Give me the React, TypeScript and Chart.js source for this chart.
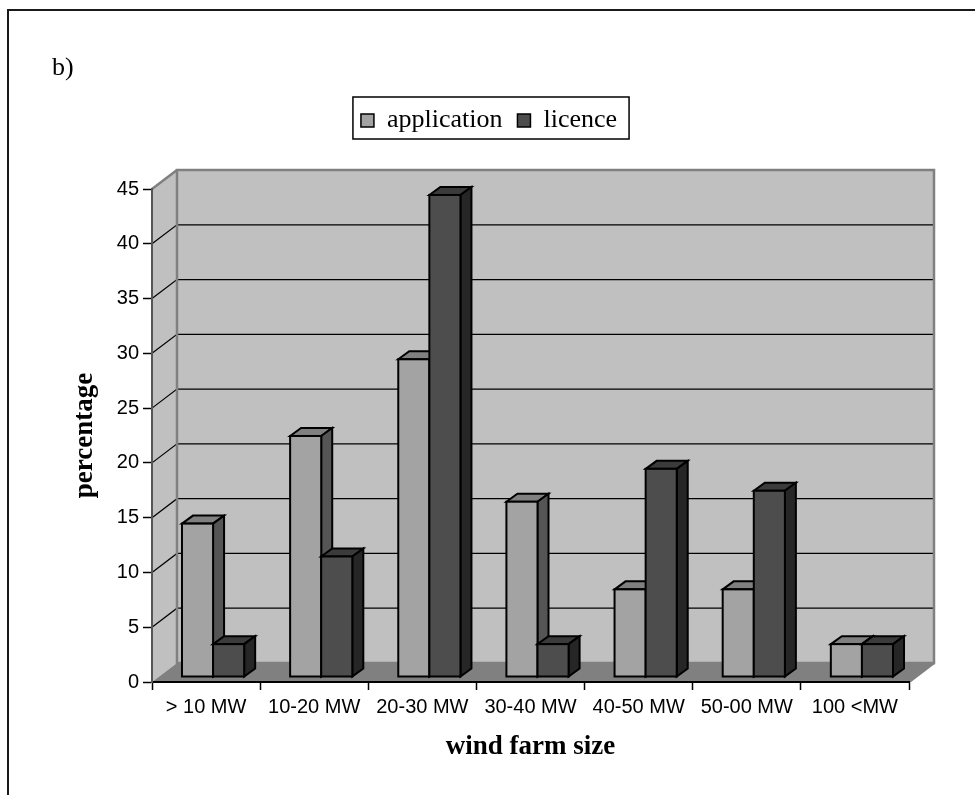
import React, { useEffect, useRef } from "react";
import { Chart, registerables } from "chart.js";

Chart.register(...registerables);

// ---------- data ----------
const categories = ["> 10 MW", "10-20 MW", "20-30 MW", "30-40 MW", "40-50 MW", "50-00 MW", "100 <MW"];
const applicationValues = [14, 22, 29, 16, 8, 8, 3];
const licenceValues = [3, 11, 44, 3, 19, 17, 3];
const seriesNames = ["application", "licence"];
const yTickValues = [0, 5, 10, 15, 20, 25, 30, 35, 40, 45];
const panelLabel = "b)";
const xAxisTitle = "wind farm size";
const yAxisTitle = "percentage";

// ---------- styles ----------
const FACES = [
  { front: "#a3a3a3", top: "#808080", side: "#555555" },
  { front: "#4d4d4d", top: "#3b3b3b", side: "#262626" },
];
const WALL = "#c0c0c0";
const FLOOR = "#808080";
const WALL_EDGE = "#808080";
const DEPTH_X = 25;
const DEPTH_Y = 19;
const BAR_OFF_X = 7;
const BAR_OFF_Y = 5;
const BAR_DX = 11;
const BAR_DY = 8;
const SANS = "'Liberation Sans', Arial, Helvetica, sans-serif";
const SERIF = "'Liberation Serif', 'Times New Roman', Times, serif";

function drawBox(ctx: CanvasRenderingContext2D, L: number, R: number, T: number, B: number, c: any) {
  ctx.lineWidth = 2;
  ctx.strokeStyle = "#000";
  ctx.lineJoin = "miter";
  // top face
  ctx.beginPath();
  ctx.moveTo(L, T);
  ctx.lineTo(L + BAR_DX, T - BAR_DY);
  ctx.lineTo(R + BAR_DX, T - BAR_DY);
  ctx.lineTo(R, T);
  ctx.closePath();
  ctx.fillStyle = c.top;
  ctx.fill();
  ctx.stroke();
  // side face
  ctx.beginPath();
  ctx.moveTo(R, T);
  ctx.lineTo(R + BAR_DX, T - BAR_DY);
  ctx.lineTo(R + BAR_DX, B - BAR_DY);
  ctx.lineTo(R, B);
  ctx.closePath();
  ctx.fillStyle = c.side;
  ctx.fill();
  ctx.stroke();
  // front face
  ctx.fillStyle = c.front;
  ctx.fillRect(L, T, R - L, B - T);
  ctx.strokeRect(L, T, R - L, B - T);
}

const threeDPlugin = {
  id: "threeD",
  beforeDraw(chart: any) {
    const ctx: CanvasRenderingContext2D = chart.ctx;
    const { left, right, top, bottom } = chart.chartArea;
    const yScale = chart.scales.y;
    ctx.save();
    ctx.fillStyle = "#fff";
    ctx.fillRect(0, 0, chart.width, chart.height);

    // outer frame
    ctx.strokeStyle = "#1a1a1a";
    ctx.lineWidth = 2;
    ctx.beginPath();
    ctx.moveTo(8, chart.height);
    ctx.lineTo(8, 10);
    ctx.lineTo(chart.width, 10);
    ctx.stroke();

    // side wall
    ctx.fillStyle = WALL;
    ctx.beginPath();
    ctx.moveTo(left, top);
    ctx.lineTo(left + DEPTH_X, top - DEPTH_Y);
    ctx.lineTo(left + DEPTH_X, bottom - DEPTH_Y);
    ctx.lineTo(left, bottom);
    ctx.closePath();
    ctx.fill();
    // back wall
    ctx.fillRect(left + DEPTH_X, top - DEPTH_Y, right - left, bottom - top);
    // floor
    ctx.fillStyle = FLOOR;
    ctx.beginPath();
    ctx.moveTo(left, bottom);
    ctx.lineTo(right, bottom);
    ctx.lineTo(right + DEPTH_X, bottom - DEPTH_Y);
    ctx.lineTo(left + DEPTH_X, bottom - DEPTH_Y);
    ctx.closePath();
    ctx.fill();

    // grid lines
    ctx.strokeStyle = "#000";
    ctx.lineWidth = 1.2;
    yScale.ticks.forEach((t: any) => {
      if (t.value <= yScale.min || t.value >= yScale.max) return;
      const py = yScale.getPixelForValue(t.value);
      ctx.beginPath();
      ctx.moveTo(left, py);
      ctx.lineTo(left + DEPTH_X, py - DEPTH_Y);
      ctx.lineTo(right + DEPTH_X, py - DEPTH_Y);
      ctx.stroke();
    });

    // wall edges
    ctx.strokeStyle = WALL_EDGE;
    ctx.lineWidth = 2.5;
    ctx.strokeRect(left + DEPTH_X, top - DEPTH_Y, right - left, bottom - top);
    ctx.beginPath();
    ctx.moveTo(left, top);
    ctx.lineTo(left + DEPTH_X, top - DEPTH_Y);
    ctx.moveTo(right, bottom);
    ctx.lineTo(right + DEPTH_X, bottom - DEPTH_Y);
    ctx.stroke();
    ctx.restore();
  },
  afterDatasetsDraw(chart: any) {
    const ctx: CanvasRenderingContext2D = chart.ctx;
    ctx.save();
    const n = chart.data.labels.length;
    for (let j = 0; j < n; j++) {
      chart.data.datasets.forEach((_ds: any, i: number) => {
        const el = chart.getDatasetMeta(i).data[j];
        if (!el) return;
        const { x, y, base, width } = el.getProps(["x", "y", "base", "width"], true);
        const L = x - width / 2 + BAR_OFF_X;
        const R = x + width / 2 + BAR_OFF_X;
        const T = y - BAR_OFF_Y;
        const B = base - BAR_OFF_Y;
        drawBox(ctx, L, R, T, B, FACES[i]);
      });
    }
    ctx.restore();
  },
  afterDraw(chart: any) {
    // legend box
    const ctx: CanvasRenderingContext2D = chart.ctx;
    ctx.save();
    ctx.font = `26px ${SERIF}`;
    const names: string[] = chart.data.datasets.map((d: any) => d.label);
    const widths = names.map((s) => ctx.measureText(s).width);
    const sw = 13;
    const padL = 8, gapText = 13, gapItem = 15, padR = 12;
    let total = padL + padR;
    widths.forEach((w, i) => {
      total += sw + gapText + w + (i < widths.length - 1 ? gapItem : 0);
    });
    const cx = 491;
    const boxL = cx - total / 2;
    const boxT = 97;
    const boxH = 42;
    ctx.fillStyle = "#fff";
    ctx.fillRect(boxL, boxT, total, boxH);
    ctx.strokeStyle = "#000";
    ctx.lineWidth = 1.5;
    ctx.strokeRect(boxL, boxT, total, boxH);
    let xc = boxL + padL;
    names.forEach((s, i) => {
      ctx.fillStyle = FACES[i].front;
      ctx.fillRect(xc, 114, sw, sw);
      ctx.strokeStyle = "#000";
      ctx.lineWidth = 1.5;
      ctx.strokeRect(xc, 114, sw, sw);
      xc += sw + gapText;
      ctx.fillStyle = "#000";
      ctx.textBaseline = "alphabetic";
      ctx.textAlign = "left";
      ctx.fillText(s, xc, 127);
      xc += widths[i] + gapItem;
    });
    ctx.restore();
  },
};

export default function App() {
  const ref = useRef<HTMLCanvasElement | null>(null);

  useEffect(() => {
    if (!ref.current) return;
    const chart = new Chart(ref.current, {
      type: "bar",
      data: {
        labels: categories,
        datasets: [
          {
            label: seriesNames[0],
            data: applicationValues,
            backgroundColor: "rgba(0,0,0,0)",
            borderWidth: 0,
            barPercentage: 1,
            categoryPercentage: 0.575,
          },
          {
            label: seriesNames[1],
            data: licenceValues,
            backgroundColor: "rgba(0,0,0,0)",
            borderWidth: 0,
            barPercentage: 1,
            categoryPercentage: 0.575,
          },
        ],
      },
      options: {
        animation: false,
        responsive: false,
        devicePixelRatio: 1,
        events: [],
        layout: { padding: { left: 52, top: 53, right: 66, bottom: 32 } },
        plugins: {
          legend: { display: false },
          tooltip: { enabled: false },
          title: {
            display: true,
            text: panelLabel,
            align: "start",
            color: "#000",
            font: { family: SERIF, size: 26, weight: "normal" },
            padding: { top: 0, bottom: 104.8 },
          },
        },
        scales: {
          x: {
            grid: {
              drawOnChartArea: false,
              drawTicks: true,
              tickLength: 8,
              tickColor: "#000",
              tickWidth: 1.5,
              offset: true,
            },
            border: { display: true, color: "#000", width: 2 },
            ticks: {
              color: "#000",
              font: { family: SANS, size: 20 },
              padding: 5,
              maxRotation: 0,
              autoSkip: false,
            },
            title: {
              display: true,
              text: xAxisTitle,
              color: "#000",
              font: { family: SERIF, size: 27, weight: "bold" },
              padding: { top: 0, bottom: 0 },
            },
            afterFit: (s: any) => {
              s.height = 81;
            },
          },
          y: {
            min: 0,
            max: 45,
            afterBuildTicks: (s: any) => {
              s.ticks = yTickValues.map((v) => ({ value: v }));
            },
            grid: {
              drawOnChartArea: false,
              drawTicks: true,
              tickLength: 9,
              tickColor: "#000",
              tickWidth: 1.5,
            },
            border: { display: true, color: "#555", width: 2 },
            ticks: {
              color: "#000",
              font: { family: SANS, size: 20 },
              padding: 4,
            },
            title: {
              display: true,
              text: yAxisTitle,
              color: "#000",
              font: { family: SERIF, size: 27, weight: "bold" },
              padding: { top: 17, bottom: 0 },
            },
            afterFit: (s: any) => {
              s.width = 100;
            },
          },
        },
      } as any,
      plugins: [threeDPlugin],
    });
    return () => chart.destroy();
  }, []);

  return (
    <div style={{ position: "fixed", left: 0, top: 0, width: 975, height: 795 }}>
      <canvas ref={ref} width={975} height={795} style={{ display: "block" }} />
    </div>
  );
}
